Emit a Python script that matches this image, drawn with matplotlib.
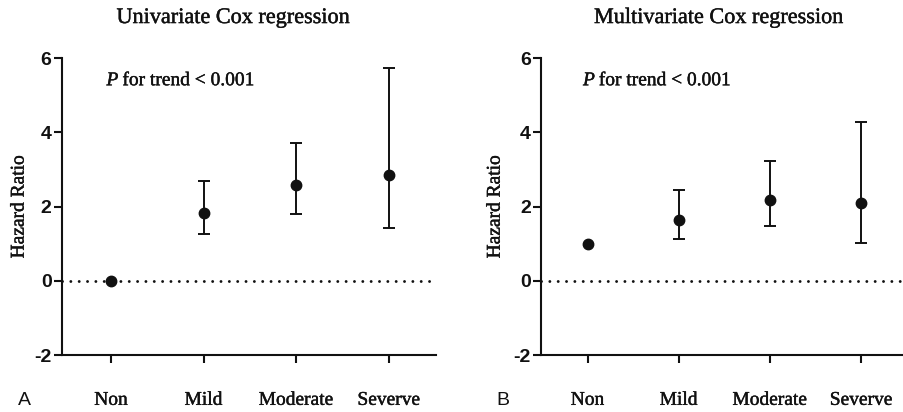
import matplotlib
matplotlib.use("Agg")
import matplotlib.pyplot as plt
import matplotlib.patheffects as pe

categories = ['Non', 'Mild', 'Moderate', 'Severve']

uni_hr = [0.0, 1.82, 2.57, 2.84]
uni_low = [0.0, 1.26, 1.80, 1.41]
uni_high = [0.0, 2.68, 3.71, 5.73]

multi_hr = [1.0, 1.65, 2.18, 2.09]
multi_low = [1.0, 1.13, 1.48, 1.02]
multi_high = [1.0, 2.45, 3.22, 4.29]

titles = ['Univariate Cox regression', 'Multivariate Cox regression']
panel_letters = ['A', 'B']

serif = ['Liberation Serif', 'DejaVu Serif']
sans = ['Liberation Sans', 'DejaVu Sans']
ink = '#111111'
thick = [pe.withStroke(linewidth=0.3, foreground=ink)]

plt.rcParams['axes.unicode_minus'] = False

fig = plt.figure(figsize=(9.04, 4.12), dpi=100)

ax_specs = [
    ([0.0686, 0.1383, 0.4137, 0.7207], (-0.53, 3.51), 0.258, 0.020, -0.092),
    ([0.5985, 0.1383, 0.4015, 0.7207], (-0.51, 3.47), 0.795, 0.549, -0.103),
]
series = [(uni_hr, uni_low, uni_high), (multi_hr, multi_low, multi_high)]

for i, (rect, xlim, tx, lx, ylab_x) in enumerate(ax_specs):
    ax = fig.add_axes(rect)
    hr, low, high = series[i]
    x = list(range(len(categories)))
    # only draw error bars where there is an interval
    keep = [k for k in x if high[k] > low[k]]
    ax.axhline(0, color=ink, lw=2.1, linestyle=(0, (0.01, 2.85)),
               dash_capstyle='round', zorder=1)
    ax.errorbar([x[k] for k in keep], [hr[k] for k in keep],
                yerr=[[hr[k] - low[k] for k in keep], [high[k] - hr[k] for k in keep]],
                fmt='none', ecolor=ink, elinewidth=1.4, capsize=4.5, capthick=1.4,
                zorder=2)
    ax.plot(x, hr, 'o', color=ink, markersize=7.5, zorder=3)

    ax.set_xlim(*xlim)
    ax.set_ylim(-2, 6)
    ax.set_yticks([-2, 0, 2, 4, 6])
    ax.set_xticks(x)
    ax.set_xticklabels(categories, fontfamily=serif, fontsize=14, path_effects=thick)
    for lbl in ax.get_yticklabels():
        lbl.set_fontfamily(sans)
        lbl.set_fontsize(14)
        lbl.set_fontweight('bold')
    ax.tick_params(axis='x', length=5.5, width=1.5, pad=21, colors=ink)
    ax.tick_params(axis='y', length=5.5, width=1.5, pad=2, colors=ink)
    for s in ['top', 'right']:
        ax.spines[s].set_visible(False)
    for s in ['left', 'bottom']:
        ax.spines[s].set_linewidth(1.5)
        ax.spines[s].set_color(ink)

    ax.set_ylabel('Hazard Ratio', fontfamily=serif, fontsize=14, color=ink,
                  path_effects=thick)
    ax.yaxis.set_label_coords(ylab_x, 0.5)

    ax.text(-0.05, 5.39, 'P', fontfamily=serif, fontstyle='italic', fontsize=14,
            va='center', ha='left', color=ink, path_effects=thick)
    ax.text(0.07, 5.39, ' for trend < 0.001', fontfamily=serif, fontsize=14,
            va='center', ha='left', color=ink, path_effects=thick)

    fig.text(tx, 0.955, titles[i], fontfamily=serif, fontsize=16,
             ha='center', va='center', color=ink, path_effects=thick)
    fig.text(lx, 0.029, panel_letters[i], fontfamily=sans, fontsize=14,
             ha='left', va='center', color=ink)

fig.savefig('out.png', dpi=100)
